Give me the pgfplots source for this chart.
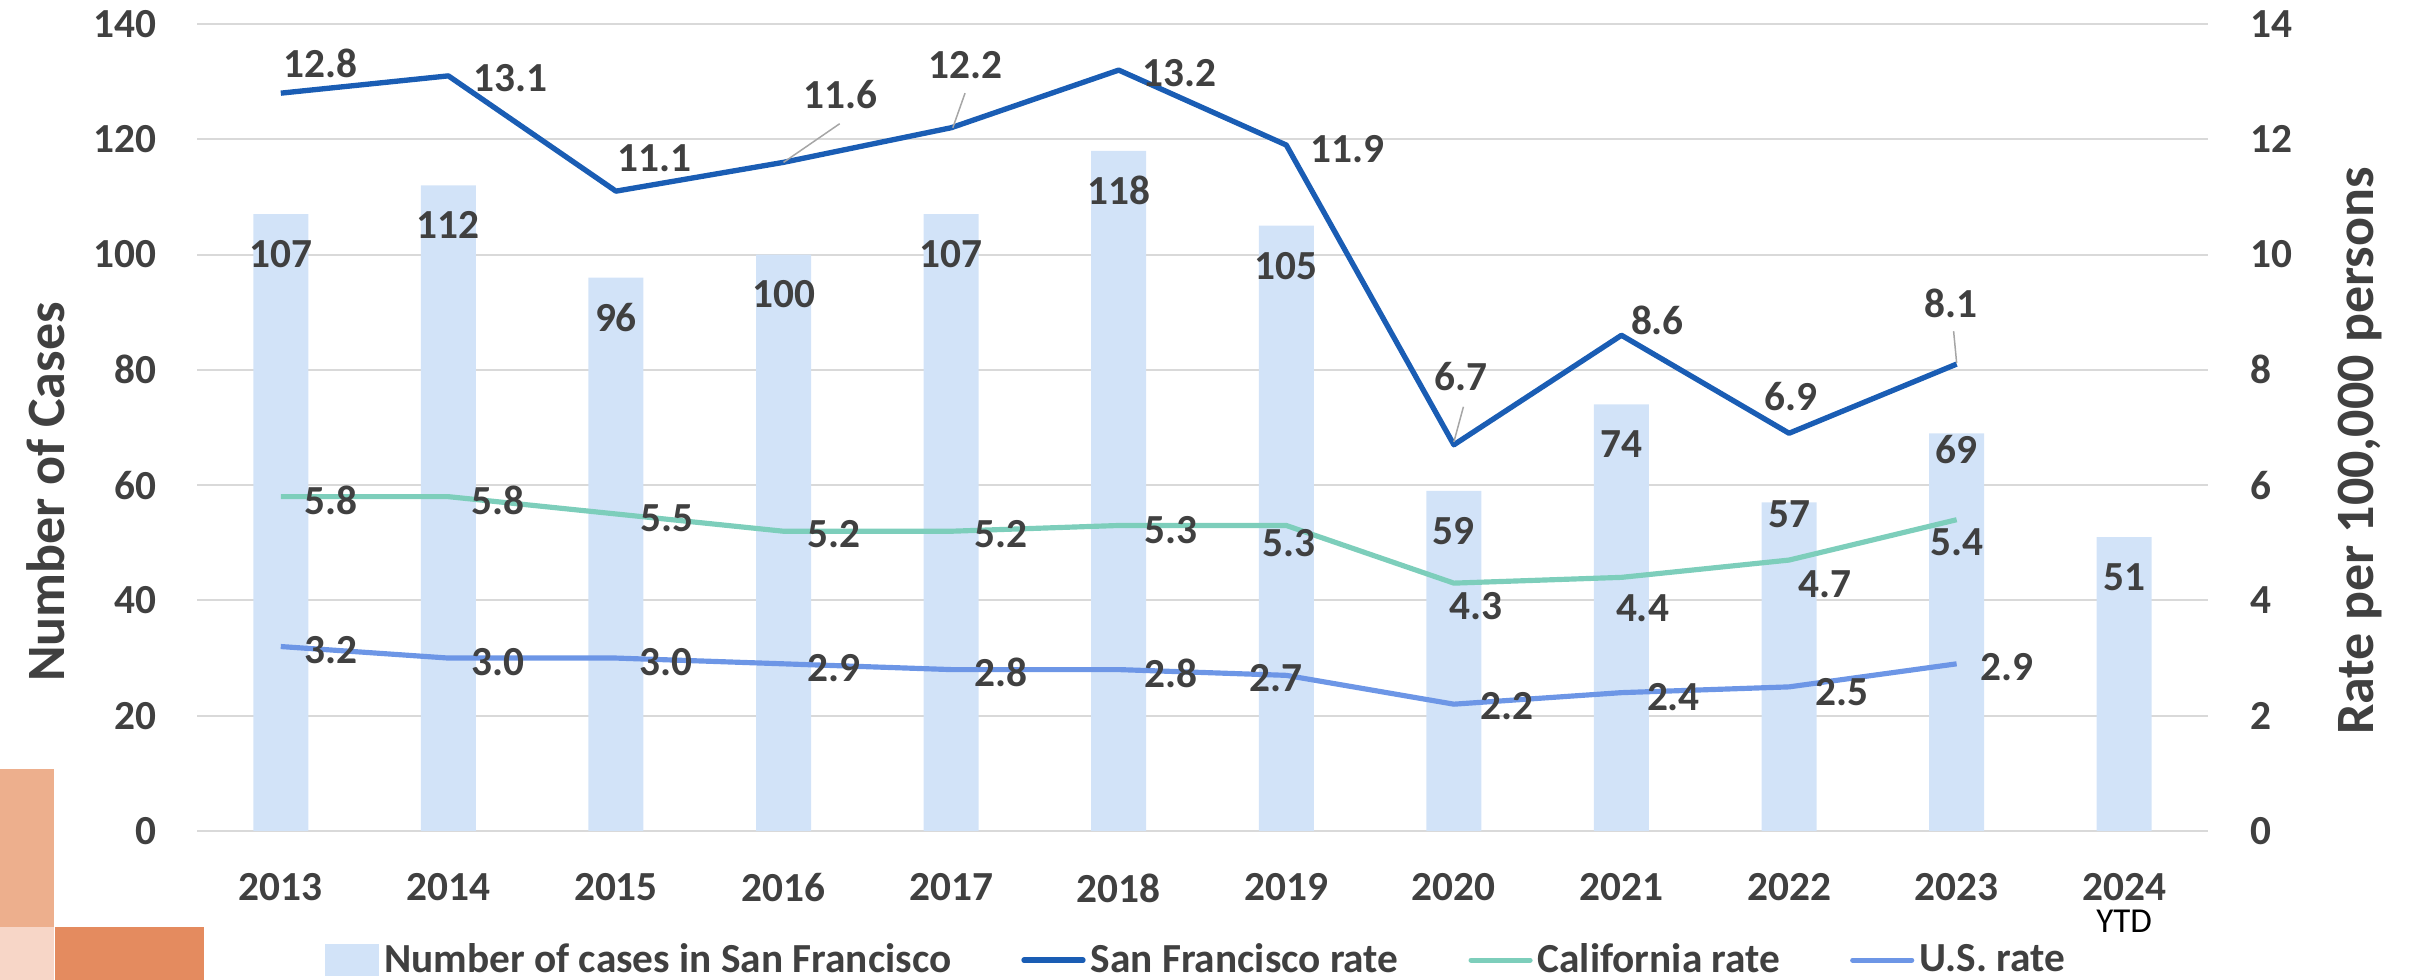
\documentclass[border=0pt]{standalone}
\usepackage{pgfplots}
\pgfplotsset{compat=1.18}
\usepackage{pgfplotstable}
\usepackage{fontspec}
\setmainfont{Carlito}
\definecolor{txt}{HTML}{404040}
\definecolor{barc}{HTML}{D2E3F8}
\definecolor{sfc}{HTML}{1A5DB4}
\definecolor{cac}{HTML}{7DCEBB}
\definecolor{usc}{HTML}{6D96E6}
\definecolor{gridc}{HTML}{D9D9D9}
\definecolor{decoA}{HTML}{EDAF8D}
\definecolor{decoB}{HTML}{F7D6C7}
\definecolor{decoC}{HTML}{E48B5F}
\definecolor{leader}{HTML}{A6A6A6}
\newcommand\lf{\fontsize{12.4}{14.9}\selectfont\bfseries}
\newcommand\yl{\fontsize{16.2}{19}\selectfont\bfseries}

\pgfplotstableread{
x y dy
0 107 -12
1 112 -12
2 96 -12
3 100 -12
4 107 -12
5 118 -12
6 105 -12
7 59 -12
8 74 -12
9 57 -3.5
10 69 -5
11 51 -12
}\tblcases

\pgfplotstableread{
x y dx dy lab
0 12.8 12.0 9.0 12.8
1 13.1 18.6 -0.7 13.1
2 11.1 11.6 9.8 11.1
3 11.6 17.1 20.4 11.6
4 12.2 4.2 18.9 12.2
5 13.2 18.3 -0.9 13.2
6 11.9 18.3 -1.2 11.9
7 6.7 2.1 20.4 6.7
8 8.6 10.8 4.5 8.6
9 6.9 0.6 11.0 6.9
10 8.1 -1.8 18.3 8.1
}\tblsf

\pgfplotstableread{
x y dx dy lab
0 5.8 15.0 -1.0 5.8
1 5.8 15.0 -1.0 5.8
2 5.5 15.3 -1.3 5.5
3 5.2 15.0 -1.0 5.2
4 5.2 15.0 -1.0 5.2
5 5.3 15.6 -1.5 5.3
6 5.3 0.9 -5.4 5.3
7 4.3 6.6 -6.9 4.3
8 4.4 6.3 -9.3 4.4
9 4.7 10.8 -7.2 4.7
10 5.4 0.0 -6.9 5.4
}\tblca

\pgfplotstableread{
x y dx dy lab
0 3.2 15.0 -1.0 3.2
1 3.0 15.0 -1.1 3.0
2 3.0 15.0 -1.1 3.0
3 2.9 15.0 -1.4 2.9
4 2.8 15.0 -0.8 2.8
5 2.8 15.6 -1.2 2.8
6 2.7 -3.0 -0.9 2.7
7 2.2 15.9 -0.6 2.2
8 2.4 15.6 -1.2 2.4
9 2.5 15.9 -1.5 2.5
10 2.9 15.0 -1.0 2.9
}\tblus

\pgfplotsset{
  /pgf/number format/assume math mode=true,
  lbl/.style={draw=none, mark=none, forget plot, nodes near coords,
    point meta=explicit symbolic,
    visualization depends on={\thisrow{dx}\as\lblx},
    visualization depends on={\thisrow{dy}\as\lbly},
    every node near coord/.append style={anchor=center, inner sep=0pt,
      xshift=\lblx pt, yshift=\lbly pt, font=\lf, text=txt}},
  base/.style={at={(59.1pt,44.7pt)}, anchor=south west,
    scale only axis, width=603.3pt, height=242.1pt,
    xmin=-0.5, xmax=11.5, ymin=0,
    major tick length=0pt, axis line style={draw=none},
    tick label style={font=\lf, text=txt, inner sep=0pt},
    clip=false},
}

\begin{document}
\begin{tikzpicture}
\useasboundingbox (0,0) rectangle (723pt,294pt);
\fill[decoA] (0pt,15.9pt) rectangle (16.2pt,63.3pt);
\fill[decoB] (0pt,0pt) rectangle (16.2pt,15.9pt);
\fill[decoC] (16.5pt,0pt) rectangle (61.2pt,15.9pt);

\begin{axis}[base, ymax=140,
  ytick={0,20,...,140},
  xtick={0,...,11},
  xticklabels={2013,2014,2015,2016,2017,2018,2019,2020,2021,2022,2023,{2024\\[-5.4pt]{\fontsize{10.5}{10.5}\selectfont\mdseries\color{black}YTD}}},
  ymajorgrids, major grid style={gridc, line width=0.6pt},
  yticklabel style={anchor=east, xshift=-12pt},
  xticklabel style={anchor=north, yshift=-12.6pt, align=center},
  ylabel={Number of Cases},
  ylabel style={at={(axis description cs:-0.0751,0.42)}, anchor=center, font=\yl, text=txt},
]
\addplot[ybar, bar width=16.5pt, fill=barc, draw=none,
  nodes near coords,
  visualization depends on={\thisrow{dy}\as\lbly},
  every node near coord/.append style={anchor=center, inner sep=0pt, yshift=\lbly pt, font=\lf, text=txt}]
  table[x=x,y=y]{\tblcases};
\end{axis}

\begin{axis}[base, ymax=14,
  xtick=\empty,
  ytick={0,2,...,14},
  yticklabel pos=right,
  yticklabel style={anchor=west, xshift=12.6pt},
  ylabel={Rate per 100,000 persons},
  ylabel style={at={(axis description cs:1.0756,0.471)}, anchor=center, font=\yl, text=txt},
  legend columns=4,
  legend image code/.code={\draw[#1, line cap=round] (0pt,0pt) -- (17.7pt,0pt);},
  legend style={at={(axis description cs:0.4963,-0.16)}, anchor=center,
    draw=none, fill=none, font=\lf, text=txt,
    nodes={inner sep=0pt}, column sep=1.5pt,
    /tikz/every even column/.append style={column sep=21pt}},
]
\addlegendimage{legend image code/.code={\fill[barc] (0pt,-4.6pt) rectangle (15.9pt,4.6pt);}}
\addlegendentry{Number of cases in San Francisco}
\addplot[sfc, line width=1.6pt, line join=round] table[x=x,y=y]{\tblsf};
\addlegendentry{San Francisco rate}
\addplot[cac, line width=1.55pt, line join=round] table[x=x,y=y]{\tblca};
\addlegendentry{California rate}
\addplot[usc, line width=1.55pt, line join=round] table[x=x,y=y]{\tblus};
\addlegendentry{U.S. rate}
\draw[leader, line width=0.45pt] (axis cs:3,11.6) -- (axis cs:3.335,12.27);
\draw[leader, line width=0.45pt] (axis cs:4.01,12.2) -- (axis cs:4.083,12.8);
\draw[leader, line width=0.45pt] (axis cs:7,6.75) -- (axis cs:7.057,7.36);
\draw[leader, line width=0.45pt] (axis cs:10,8.12) -- (axis cs:9.982,8.67);
\addplot[lbl] table[x=x,y=y,meta=lab]{\tblsf};
\addplot[lbl] table[x=x,y=y,meta=lab]{\tblca};
\addplot[lbl] table[x=x,y=y,meta=lab]{\tblus};
\end{axis}
\end{tikzpicture}
\end{document}
